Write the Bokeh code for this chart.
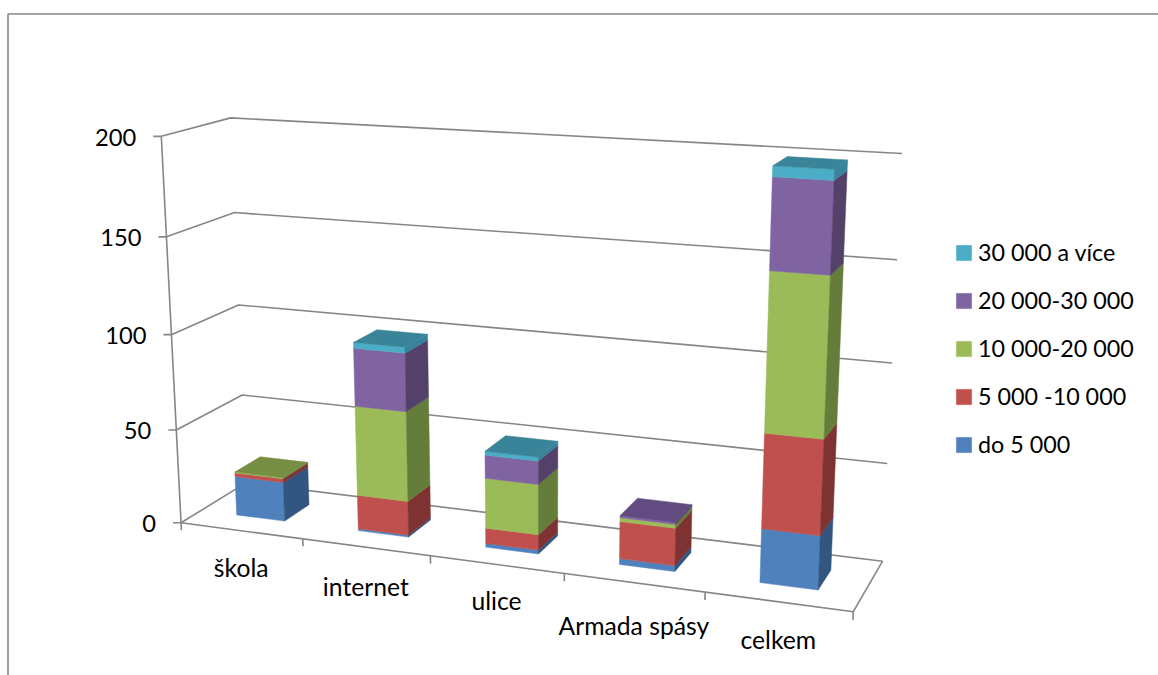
import numpy as np
from bokeh.plotting import figure
from bokeh.models import Range1d, Legend, LegendItem
from bokeh.core.properties import value
from bokeh.embed import file_html
from bokeh.resources import INLINE

categories = ["škola", "internet", "ulice", "Armada spásy", "celkem"]
series_names = ["do 5 000", "5 000 -10 000", "10 000-20 000", "20 000-30 000", "30 000 a více"]
do_5000 = [21, 1, 2, 3, 27]
s_5_10 = [2, 18, 8, 19, 47]
s_10_20 = [0.5, 47, 26, 2, 77]
s_20_30 = [0, 30, 12, 1, 43]
s_30_up = [0, 3, 2, 0, 5]
series_values = [do_5000, s_5_10, s_10_20, s_20_30, s_30_up]
y_ticks = [0, 50, 100, 150, 200]

face_colors = ["#4f81bd", "#c0504d", "#9bbb59", "#8064a2", "#4bacc6"]
side_colors = ["#335680", "#7e3231", "#657d3a", "#544169", "#37839b"]
top_colors = ["#3f6797", "#9a403e", "#778f45", "#624b80", "#3a8499"]
GRID = "#868686"
FONT = "Lato"
FS_VALUE = "23.7px"
FS_CAT = "24.7px"
FS_LEGEND = "23.3px"

# Camera calibration: (u along categories, v depth, h value/200) -> page pixels
calib = [
    (0, 0, 0, 181, 522), (0, 0, .25, 176, 429.3), (0, 0, .5, 170.7, 334.3), (0, 0, .75, 165.7, 236), (0, 0, 1, 160.7, 136),
    (0, 1, 0, 245, 483), (0, 1, .25, 241.7, 394.3), (0, 1, .5, 238.3, 304.3), (0, 1, .75, 233.3, 212.3), (0, 1, 1, 231, 117.3),
    (1, 1, 0, 881.7, 560), (1, 1, .25, 887, 463), (1, 1, .5, 892, 363), (1, 1, .75, 897, 259), (1, 1, 1, 901, 153),
    (1, 0, 0, 852.7, 611.7),
]
A, b = [], []
for u, v, h, x, y in calib:
    A.append([u, v, h, 1, 0, 0, 0, 0, -x * u, -x * v, -x * h]); b.append(x)
    A.append([0, 0, 0, 0, u, v, h, 1, -y * u, -y * v, -y * h]); b.append(y)
m = np.linalg.lstsq(np.array(A, float), np.array(b, float), rcond=None)[0]


def proj(u, v, val):
    h = val / 200
    w = m[8] * u + m[9] * v + m[10] * h + 1
    return ((m[0] * u + m[1] * v + m[2] * h + m[3]) / w,
            (m[4] * u + m[5] * v + m[6] * h + m[7]) / w)


p = figure(width=1158, height=675, output_backend="svg", toolbar_location=None,
           x_range=Range1d(0, 1158), y_range=Range1d(675, 0), min_border=0,
           outline_line_color=None)
p.xaxis.visible = False
p.yaxis.visible = False
p.grid.visible = False

# chart frame
p.line([7.5, 7.5, 1158], [675, 13.5, 13.5], line_color=GRID, line_width=1.6)

n = len(categories)
# walls
xs, ys = [], []
for t in y_ticks:
    pts = [proj(0, 0, t), proj(0, 1, t), proj(1, 1, t)]
    xs.append([q[0] for q in pts]); ys.append([q[1] for q in pts])
    a = proj(0, 0, t)
    xs.append([a[0] - 8, a[0]]); ys.append([a[1], a[1]])
pts = [proj(0, 0, 0), proj(0, 0, 200)]
xs.append([q[0] for q in pts]); ys.append([q[1] for q in pts])
pts = [proj(0, 0, 0), proj(1, 0, 0), proj(1, 1, 0)]
xs.append([q[0] for q in pts]); ys.append([q[1] for q in pts])
for i in range(n + 1):
    a = proj(i / n, 0, 0)
    c = proj(i / n, 0, -4)
    xs.append([a[0], c[0]]); ys.append([a[1], c[1]])
p.multi_line(xs, ys, line_color=GRID, line_width=1.6)

# bars
BAR_W, V0, V1 = 0.4, 0.3, 0.7
legend_items = []
totals = np.sum(series_values, axis=0)
for si, vals in enumerate(series_values):
    bottoms = np.sum(series_values[:si], axis=0) if si else np.zeros(n)
    fx, fy, sx, sy, tx, ty = [], [], [], [], [], []
    for i in range(n):
        if vals[i] == 0:
            continue
        u0 = (i + .5 - BAR_W / 2) / n
        u1 = (i + .5 + BAR_W / 2) / n
        lo = bottoms[i]
        hi = lo + vals[i]
        q = [proj(u0, V0, lo), proj(u1, V0, lo), proj(u1, V0, hi), proj(u0, V0, hi)]
        fx.append([a[0] for a in q]); fy.append([a[1] for a in q])
        q = [proj(u1, V0, lo), proj(u1, V1, lo), proj(u1, V1, hi), proj(u1, V0, hi)]
        sx.append([a[0] for a in q]); sy.append([a[1] for a in q])
        if hi == totals[i]:
            q = [proj(u0, V0, hi), proj(u1, V0, hi), proj(u1, V1, hi), proj(u0, V1, hi)]
            tx.append([a[0] for a in q]); ty.append([a[1] for a in q])
    r = p.patches(fx, fy, fill_color=face_colors[si], line_color=face_colors[si], line_width=0.5)
    p.patches(sx, sy, fill_color=side_colors[si], line_color=side_colors[si], line_width=0.5)
    if tx:
        p.patches(tx, ty, fill_color=top_colors[si], line_color=top_colors[si], line_width=0.5)
    legend_items.append(LegendItem(label=series_names[si], renderers=[r]))

# value labels
lx, ly, lt = [], [], []
for t in y_ticks:
    a = proj(0, 0, t)
    lx.append(a[0] - 25); ly.append(a[1] + 1); lt.append(str(t))
p.text(lx, ly, text=lt, text_font=value(FONT), text_font_size=FS_VALUE, text_color="#000000",
       text_align="right", text_baseline="middle")

# category labels
label_drop = [36.5, 39, 36.2, 43, 38.2]
cx, cy = [], []
for i in range(n):
    a = proj((i + .5) / n, 0, 0)
    cx.append(a[0]); cy.append(a[1] + label_drop[i])
p.text(cx, cy, text=categories, text_font=value(FONT), text_font_size=FS_CAT, text_color="#000000",
       text_align="center", text_baseline="middle")

legend = Legend(items=legend_items[::-1], location=(954, 217), orientation="vertical",
                background_fill_alpha=0, border_line_color=None, padding=0, margin=0,
                glyph_width=19, glyph_height=19, label_text_font=FONT, label_text_font_size=FS_LEGEND,
                label_text_color="#000000", label_standoff=5, spacing=20, label_height=19,
                label_text_baseline="middle")
p.add_layout(legend, "center")

open("out.html", "w").write(file_html(p, INLINE))
